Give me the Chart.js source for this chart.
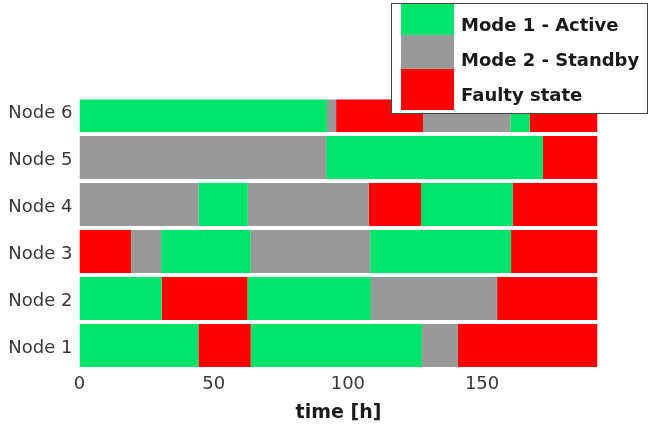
<!DOCTYPE html>
<html>
<head>
<meta charset="utf-8">
<script src="https://cdn.jsdelivr.net/npm/chart.js@4/dist/chart.umd.min.js"></script>
<style>
  html, body { margin: 0; padding: 0; background: #ffffff; }
  #wrap { width: 660px; height: 426px; position: relative; }
</style>
</head>
<body>
<div id="wrap"><canvas id="c" width="660" height="426"></canvas></div>
<script>
// ---- data ----
const nodeNames = ['Node 1', 'Node 2', 'Node 3', 'Node 4', 'Node 5', 'Node 6'];
const stateNames = ['Mode 1 - Active', 'Mode 2 - Standby', 'Faulty state'];
const xTickValues = [0, 50, 100, 150];
const xTitle = 'time [h]';

// boundaries of each state interval (hours) and state per interval (0 Active, 1 Standby, 2 Faulty)
const node1Times  = [0, 44.3, 63.8, 127.6, 141.0, 193];
const node1States = [0, 2, 0, 1, 2];
const node2Times  = [0, 30.6, 62.6, 108.6, 155.6, 193];
const node2States = [0, 2, 0, 1, 2];
const node3Times  = [0, 19.2, 30.4, 63.8, 108.3, 160.8, 193];
const node3States = [2, 1, 0, 1, 0, 2];
const node4Times  = [0, 44.3, 62.7, 107.8, 127.3, 161.4, 193];
const node4States = [1, 0, 1, 2, 0, 2];
const node5Times  = [0, 91.9, 172.7, 193];
const node5States = [1, 0, 2];
const node6Times  = [0, 92.2, 95.6, 128.0, 160.5, 167.7, 193];
const node6States = [0, 1, 2, 1, 0, 2];

// ---- styles ----
const stateColors = ['#00e46b', '#999999', '#ff0000'];
const textColor = '#383838';

const allTimes = [node1Times, node2Times, node3Times, node4Times, node5Times, node6Times];
const allStates = [node1States, node2States, node3States, node4States, node5States, node6States];
const maxSeg = Math.max(...allStates.map(s => s.length));

const datasets = [];
for (let k = 0; k < maxSeg; k++) {
  const data = [];
  allTimes.forEach((t, n) => {
    if (k < allStates[n].length) {
      data.push({ x: [t[k], t[k + 1]], y: n + 1, s: allStates[n][k] });
    }
  });
  datasets.push({
    label: 'segment ' + (k + 1),
    data: data,
    backgroundColor: ctx => stateColors[ctx.raw ? ctx.raw.s : 0],
    borderWidth: 0,
    borderSkipped: false,
    grouped: false,
    clip: 0,
    barPercentage: 0.915,
    categoryPercentage: 1.0
  });
}

const legendPlugin = {
  id: 'boxLegend',
  afterDraw(chart) {
    const ctx = chart.ctx;
    ctx.save();
    const bx = 391.5, by = 3.5, bw = 256, bh = 110;
    ctx.fillStyle = '#ffffff';
    ctx.fillRect(bx, by, bw, bh);
    ctx.strokeStyle = '#444444';
    ctx.lineWidth = 1;
    ctx.strokeRect(bx, by, bw, bh);
    const swTops = [4, 35, 69];
    const swBots = [35, 69, 110];
    const textY = [26.5, 61.5, 96.5];
    stateNames.forEach((name, i) => {
      ctx.fillStyle = stateColors[i];
      ctx.fillRect(401, swTops[i], 53, swBots[i] - swTops[i]);
      ctx.fillStyle = '#1a1a1a';
      ctx.font = 'bold 18px "DejaVu Sans"';
      ctx.textAlign = 'left';
      ctx.textBaseline = 'middle';
      ctx.fillText(name, 461, textY[i]);
    });
    ctx.restore();
  }
};

new Chart(document.getElementById('c'), {
  type: 'bar',
  data: { datasets: datasets },
  options: {
    indexAxis: 'y',
    responsive: false,
    animation: false,
    layout: { padding: { left: 0, right: 62.5, top: 99.5, bottom: 0 } },
    plugins: {
      legend: { display: false },
      tooltip: { enabled: false }
    },
    scales: {
      x: {
        type: 'linear',
        min: 0,
        max: 193,
        offset: false,
        afterBuildTicks: axis => { axis.ticks = xTickValues.map(v => ({ value: v })); },
        afterFit: axis => { axis.height = 59; },
        grid: { display: false, drawTicks: false, offset: false },
        border: { display: false },
        ticks: {
          color: textColor,
          font: { family: 'DejaVu Sans', size: 18 },
          padding: 7,
          maxRotation: 0
        },
        title: {
          display: true,
          text: xTitle,
          color: '#1a1a1a',
          font: { family: 'DejaVu Sans', size: 19, weight: 'bold', lineHeight: 1.2 },
          padding: { top: 0, bottom: 2 }
        }
      },
      y: {
        type: 'linear',
        min: 0.5426,
        max: 6.234,
        offset: false,
        afterBuildTicks: axis => { axis.ticks = nodeNames.map((_, i) => ({ value: i + 1 })); },
        afterFit: axis => { axis.width = 79.5; },
        grid: { display: false, drawTicks: false, offset: false },
        border: { display: false },
        ticks: {
          color: textColor,
          font: { family: 'DejaVu Sans', size: 18 },
          padding: 7,
          labelOffset: 3,
          callback: v => nodeNames[Math.round(v) - 1]
        }
      }
    }
  },
  plugins: [legendPlugin]
});
</script>
</body>
</html>
